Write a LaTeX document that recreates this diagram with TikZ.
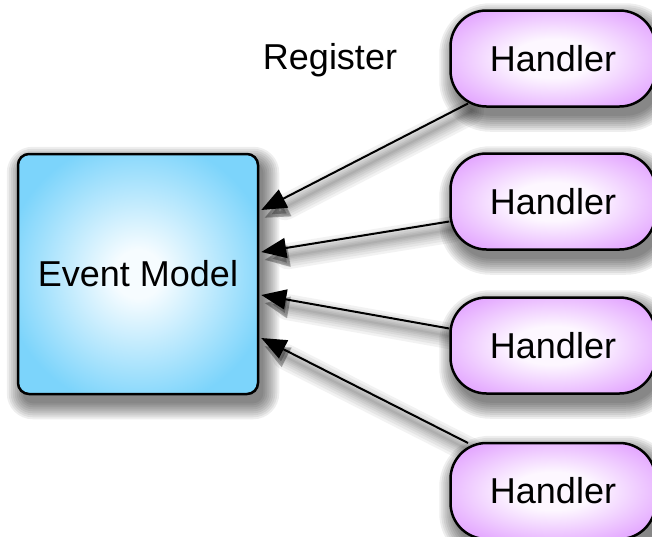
\documentclass[tikz,border=0pt]{standalone}
\usepackage{fontspec}
\setmainfont{Liberation Sans}
\usetikzlibrary{arrows.meta,calc}

\definecolor{modeledge}{RGB}{124,212,251}
\definecolor{modelcore}{RGB}{246,252,255}
\definecolor{handleredge}{RGB}{224,156,255}
\definecolor{handlercore}{RGB}{253,247,255}

% radial fills: pale centre fading out to the saturated border colour
\pgfdeclareradialshading{modelshade}{\pgfpoint{0bp}{0bp}}{%
  color(0bp)=(modelcore); color(5bp)=(modelcore);
  color(28bp)=(modeledge); color(50bp)=(modeledge)}
\pgfdeclareradialshading{handlershade}{\pgfpoint{0bp}{0bp}}{%
  color(0bp)=(handlercore); color(10bp)=(handlercore);
  color(33bp)=(handleredge); color(50bp)=(handleredge)}

\pgfdeclarelayer{paper}
\pgfdeclarelayer{shadowlayer}
\pgfsetlayers{paper,shadowlayer,main}

\tikzset{
  label text/.style={font=\fontsize{36}{40}\selectfont, text=black},
  modelbox/.style={draw=black, line width=2.5pt, rounded corners=11pt,
      minimum width=240pt, minimum height=240pt, inner sep=0pt,
      shading=modelshade, label text},
  handlerbox/.style={draw=black, line width=2.5pt, rounded corners=36pt,
      minimum width=205pt, minimum height=96pt, inner sep=0pt,
      shading=handlershade, label text},
  shadowpiece/.style={fill=black, opacity=0.065},
  link/.style={draw=black, line width=2pt,
      -{Triangle[length=25pt,width=20pt]}},
  linkshade/.style={draw=black, line cap=round, opacity=0.05,
      -{Triangle[length=25pt,width=20pt]}},
}

% soft drop shadow behind a node: stacked, growing translucent copies
\newcommand{\boxshadow}[2]{%
  \begin{pgfonlayer}{shadowlayer}
    \foreach \k in {15,13,...,-1}{
      \fill[shadowpiece, rounded corners={#2+\k pt}]
        ($(#1.north west)+(5-\k,9-\k)$) rectangle ($(#1.south east)+(5+\k,9+\k)$);
    }
  \end{pgfonlayer}}

% arrow with a blurred shadow underneath
\newcommand{\shadedlink}[2]{%
  \begin{pgfonlayer}{shadowlayer}
    \foreach \w in {26,21,16,12,8,5,2}{
      \draw[linkshade, line width=\w pt, transform canvas={xshift=3pt,yshift=-8pt}] #1 -- #2;
    }
  \end{pgfonlayer}
  \draw[link] #1 -- #2;
}

\begin{document}
\begin{tikzpicture}[x=1pt,y=-1pt]
  \useasboundingbox (0,0) rectangle (652,536);
  \begin{pgfonlayer}{paper}
    \fill[white] (0,0) rectangle (652,536);
  \end{pgfonlayer}

  % receiving component
  \node[modelbox] (em) at (138,274) {Event Model};

  % the registering handlers
  \node[handlerbox] (h1) at (553,58.5) {Handler};
  \node[handlerbox] (h2) at (553,201.5) {Handler};
  \node[handlerbox] (h3) at (553,345.5) {Handler};
  \node[handlerbox] (h4) at (553,491) {Handler};

  \boxshadow{em}{11}
  \boxshadow{h1}{36}
  \boxshadow{h2}{36}
  \boxshadow{h3}{36}
  \boxshadow{h4}{36}

  % caption
  \node[label text] (reg) at (330,60) {Register};

  % registration arrows
  \coordinate (s1) at ($(h1.center)+(-85,45)$);
  \coordinate (s2) at ($(h2.west)+(0,20)$);
  \coordinate (s3) at ($(h3.west)+(0,-17)$);
  \coordinate (s4) at ($(h4.center)+(-85,-48)$);
  \coordinate (e1) at ($(em.east)+(2,-64)$);
  \coordinate (e2) at ($(em.east)+(2,-22)$);
  \coordinate (e3) at ($(em.east)+(2,21)$);
  \coordinate (e4) at ($(em.east)+(2,64)$);

  \shadedlink{(s1)}{(e1)}
  \shadedlink{(s2)}{(e2)}
  \shadedlink{(s3)}{(e3)}
  \shadedlink{(s4)}{(e4)}
\end{tikzpicture}
\end{document}
